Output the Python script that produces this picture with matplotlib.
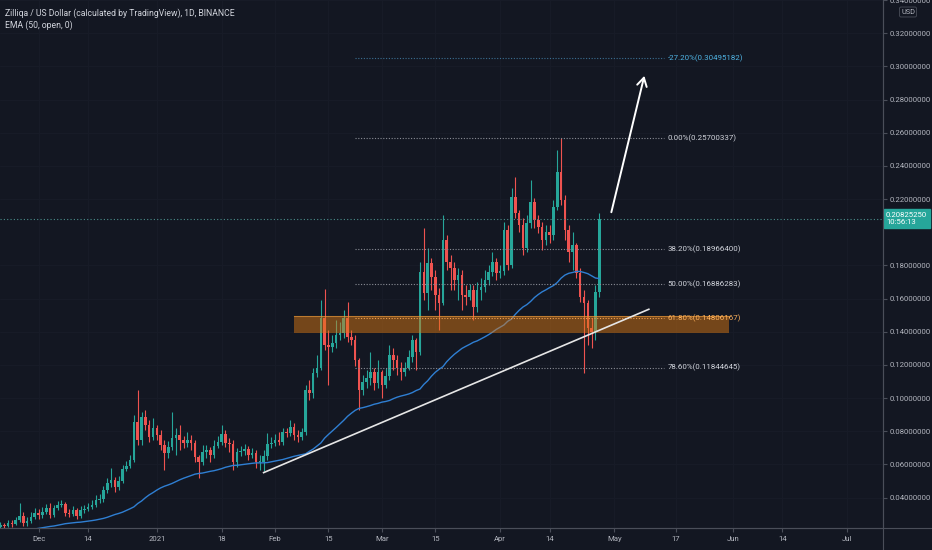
import numpy as np
import pandas as pd
import matplotlib
matplotlib.use('Agg')
import matplotlib.pyplot as plt
import matplotlib.dates as mdates
import matplotlib.transforms as mtransforms
from matplotlib import font_manager

#%% data (daily ZIL/USD candles)
start_day = '2020-11-21'
first_open = 0.0223
closes = [
    0.0235, 0.0229, 0.0247, 0.0241, 0.0265, 0.0290, 0.0247, 0.0259, 0.0283, 0.0308,
    0.0296, 0.0314, 0.0338, 0.0296, 0.0338, 0.0356, 0.0362, 0.0308, 0.0302, 0.0326,
    0.0290, 0.0326, 0.0332, 0.0344, 0.0356, 0.0386, 0.0392, 0.0446, 0.0489, 0.0507,
    0.0464, 0.0501, 0.0573, 0.0591, 0.0627, 0.0856, 0.0748, 0.0886, 0.0838, 0.0766,
    0.0820, 0.0778, 0.0718, 0.0669, 0.0706, 0.0760, 0.0778, 0.0748, 0.0730, 0.0748,
    0.0730, 0.0645, 0.0615, 0.0675, 0.0687, 0.0657, 0.0712, 0.0736, 0.0784, 0.0730,
    0.0724, 0.0615, 0.0675, 0.0681, 0.0694, 0.0657, 0.0669, 0.0615, 0.0615, 0.0651,
    0.0724, 0.0730, 0.0748, 0.0736, 0.0796, 0.0790, 0.0826, 0.0778, 0.0766, 0.0796,
    0.1049, 0.1031, 0.1152, 0.1182, 0.1483, 0.1321, 0.1309, 0.1333, 0.1380, 0.1393,
    0.1483, 0.1369, 0.1350, 0.1230, 0.1049, 0.1098, 0.1122, 0.1158, 0.1092, 0.1158,
    0.1079, 0.1134, 0.1260, 0.1230, 0.1182, 0.1158, 0.1182, 0.1248, 0.1350, 0.1278,
    0.1761, 0.1634, 0.1815, 0.1731, 0.1621, 0.1574, 0.1952, 0.1821, 0.1785, 0.1711,
    0.1741, 0.1621, 0.1610, 0.1651, 0.1550, 0.1651, 0.1670, 0.1711, 0.1761, 0.1821,
    0.1755, 0.1767, 0.2013, 0.1802, 0.2213, 0.2117, 0.2043, 0.1906, 0.2056, 0.2183,
    0.2073, 0.2032, 0.1952, 0.2002, 0.1983, 0.2153, 0.2364, 0.2193, 0.2013, 0.1881,
    0.1922, 0.1755, 0.1610, 0.1574, 0.1423, 0.1399, 0.1640, 0.2083]
highs = [
    0.0253, 0.0247, 0.0265, 0.0265, 0.0283, 0.0368, 0.0314, 0.0283, 0.0314, 0.0338,
    0.0332, 0.0344, 0.0362, 0.0368, 0.0356, 0.0380, 0.0386, 0.0374, 0.0332, 0.0350,
    0.0338, 0.0350, 0.0356, 0.0368, 0.0386, 0.0416, 0.0422, 0.0470, 0.0519, 0.0579,
    0.0525, 0.0531, 0.0597, 0.0621, 0.0657, 0.0899, 0.1049, 0.0917, 0.0929, 0.0868,
    0.0880, 0.0838, 0.0808, 0.0748, 0.0742, 0.0917, 0.0820, 0.0838, 0.0772, 0.0796,
    0.0778, 0.0748, 0.0657, 0.0718, 0.0718, 0.0706, 0.0748, 0.0772, 0.0838, 0.0808,
    0.0760, 0.0748, 0.0700, 0.0712, 0.0724, 0.0712, 0.0700, 0.0687, 0.0657, 0.0687,
    0.0790, 0.0766, 0.0784, 0.0796, 0.0820, 0.0820, 0.0868, 0.0850, 0.0808, 0.0820,
    0.1079, 0.1110, 0.1182, 0.1260, 0.1592, 0.1658, 0.1411, 0.1380, 0.1471, 0.1459,
    0.1532, 0.1580, 0.1411, 0.1380, 0.1242, 0.1140, 0.1170, 0.1278, 0.1182, 0.1230,
    0.1170, 0.1182, 0.1321, 0.1303, 0.1260, 0.1218, 0.1218, 0.1290, 0.1380, 0.1363,
    0.1821, 0.2026, 0.1906, 0.1845, 0.1772, 0.1664, 0.2103, 0.1983, 0.1862, 0.1821,
    0.1785, 0.1772, 0.1681, 0.1688, 0.1681, 0.1701, 0.1725, 0.1772, 0.1802, 0.1881,
    0.1845, 0.1802, 0.2062, 0.2043, 0.2267, 0.2334, 0.2133, 0.2086, 0.2103, 0.2314,
    0.2207, 0.2103, 0.2062, 0.2043, 0.2043, 0.2193, 0.2495, 0.2570, 0.2224, 0.2043,
    0.2002, 0.1936, 0.1785, 0.1651, 0.1591, 0.1483, 0.1681, 0.2117]
lows = [
    0.0217, 0.0217, 0.0223, 0.0223, 0.0235, 0.0253, 0.0229, 0.0229, 0.0247, 0.0271,
    0.0271, 0.0277, 0.0302, 0.0277, 0.0283, 0.0326, 0.0344, 0.0290, 0.0283, 0.0290,
    0.0271, 0.0277, 0.0308, 0.0320, 0.0332, 0.0344, 0.0368, 0.0374, 0.0428, 0.0464,
    0.0434, 0.0446, 0.0489, 0.0561, 0.0579, 0.0615, 0.0718, 0.0718, 0.0808, 0.0736,
    0.0748, 0.0748, 0.0687, 0.0567, 0.0639, 0.0687, 0.0657, 0.0687, 0.0700, 0.0706,
    0.0687, 0.0615, 0.0519, 0.0597, 0.0639, 0.0615, 0.0639, 0.0700, 0.0718, 0.0706,
    0.0675, 0.0567, 0.0585, 0.0651, 0.0657, 0.0627, 0.0639, 0.0579, 0.0567, 0.0561,
    0.0627, 0.0700, 0.0712, 0.0718, 0.0718, 0.0766, 0.0772, 0.0748, 0.0736, 0.0748,
    0.0778, 0.0989, 0.1001, 0.1128, 0.1170, 0.1290, 0.1079, 0.1278, 0.1303, 0.1350,
    0.1363, 0.1339, 0.1321, 0.1194, 0.0929, 0.1019, 0.1061, 0.1079, 0.1049, 0.1061,
    0.1001, 0.1061, 0.1110, 0.1170, 0.1140, 0.1110, 0.1134, 0.1170, 0.1218, 0.1170,
    0.1260, 0.1591, 0.1531, 0.1651, 0.1531, 0.1411, 0.1561, 0.1772, 0.1651, 0.1651,
    0.1591, 0.1531, 0.1561, 0.1591, 0.1470, 0.1520, 0.1591, 0.1640, 0.1681, 0.1737,
    0.1711, 0.1725, 0.1741, 0.1772, 0.1785, 0.2086, 0.2002, 0.1862, 0.1881, 0.2026,
    0.2026, 0.1996, 0.1892, 0.1922, 0.1936, 0.1952, 0.2133, 0.2163, 0.1952, 0.1821,
    0.1772, 0.1725, 0.1580, 0.1152, 0.1321, 0.1303, 0.1350, 0.1610]
ema_seed = 0.019   # EMA value just before the first visible candle

fib_pcts = ['-27.20%', '0.00%', '38.20%', '50.00%', '61.80%', '78.60%']
fib_prices = [0.30495182, 0.25700337, 0.18966400, 0.16886283, 0.14806167, 0.11844645]
fib_span = ['2021-02-22', '2021-05-14']
zone_span = ['2021-02-06', '2021-05-31']
zone_prices = [0.1393, 0.1495]
trend_dates = ['2021-01-29', '2021-05-10']
trend_prices = [0.0551, 0.1536]
arrow_dates = ['2021-04-30', '2021-05-09']
arrow_prices = [0.2105, 0.296]
last_price_text = '0.20825250'
countdown = '10:56:13'

tick_dates = ['2020-12-01', '2020-12-14', '2021-01-01', '2021-01-18', '2021-02-01',
              '2021-02-15', '2021-03-01', '2021-03-15', '2021-04-01', '2021-04-14',
              '2021-05-01', '2021-05-17', '2021-06-01', '2021-06-14', '2021-07-01']
tick_labels = ['Dec', '14', '2021', '18', 'Feb', '15', 'Mar', '15', 'Apr', '14',
               'May', '17', 'Jun', '14', 'Jul']
price_ticks = [0.04, 0.06, 0.08, 0.10, 0.12, 0.14, 0.16, 0.18, 0.22, 0.24, 0.26,
               0.28, 0.30, 0.32, 0.34]

#%% fonts
names = {f.name for f in font_manager.fontManager.ttflist}
if 'Liberation Sans Narrow' in names:
    FONT = ['Liberation Sans Narrow', 'DejaVu Sans']
else:
    FONT = ['Roboto', 'DejaVu Sans']
plt.rcParams['font.family'] = FONT

BG = '#131722'
TXT = '#b2b5be'
UP = '#26a69a'
DOWN = '#ef5350'

fig = plt.figure(figsize=(9.32, 5.5), dpi=100, facecolor=BG)
renderer = fig.canvas.get_renderer()


def fit_size(s, width_px, base=10.0):
    # font size that makes string s about width_px wide
    t = fig.text(0, 0, s, fontsize=base)
    w = t.get_window_extent(renderer).width
    t.remove()
    return base * width_px / w


FS_AX = fit_size('0.32000000', 41)
FS_FIB = fit_size('0.00%(0.25700337)', 68)
FS_LEG = fit_size('Zilliqa / US Dollar (calculated by TradingView), 1D, BINANCE', 228)

#%% candles
dates = pd.date_range(start_day, periods=len(closes), freq='D')
x = mdates.date2num(dates)
c = np.array(closes)
o = np.concatenate([[first_open], c[:-1]])
h = np.maximum(np.array(highs), np.maximum(o, c))
l = np.minimum(np.array(lows), np.minimum(o, c))
up = c >= o
col = np.where(up, UP, DOWN)

ema = []
prev = ema_seed
alpha = 2 / 51
for v in o:
    prev = prev + alpha * (v - prev)
    ema.append(prev)

ax = fig.add_axes([0, 22 / 550, 883 / 932, 528 / 550])
ax.set_facecolor(BG)

x0 = mdates.date2num(pd.Timestamp('2020-12-01'))
ax.set_xlim(x0 - 10.12, x0 + 221.4)
ax.set_ylim(0.0217, 0.3401)

ax.grid(True, color='#181c28', lw=0.6)
ax.set_axisbelow(True)

ax.vlines(x, l, h, colors=col, lw=0.8, zorder=3)
body = np.maximum(np.abs(c - o), 0.0004)
ax.bar(x, body, bottom=np.minimum(o, c), width=0.68, color=col, lw=0, zorder=4)

ax.plot(x, ema, color='#2f7fd3', lw=1.0, zorder=5)

# support zone
zx = mdates.date2num(pd.to_datetime(zone_span))
ax.fill_between(zx, zone_prices[0], zone_prices[1], color='#e07a12', alpha=0.48,
                lw=0, zorder=6)
ax.plot(zx, [zone_prices[1]] * 2, color='#f0a040', lw=0.8, alpha=0.6, zorder=6)

# fib levels
fx = mdates.date2num(pd.to_datetime(fib_span))
for pct, p in zip(fib_pcts, fib_prices):
    if pct.startswith('-'):
        lc, tc = '#3b6f92', '#4fb3e3'
    elif pct == '61.80%':
        lc, tc = '#f0a050', '#ffb25c'
    else:
        lc, tc = '#8a8d96', '#d1d4dc'
    ax.plot(fx, [p, p], color=lc, lw=0.8, ls=(0, (1, 1.5)), zorder=7)
    ax.text(fx[1] + 0.9, p, '%s(%.8f)' % (pct, p), color=tc, fontsize=FS_FIB,
            va='center', ha='left', zorder=8)

# trendline
tx = mdates.date2num(pd.to_datetime(trend_dates))
ax.plot(tx, trend_prices, color='#e6e6e6', lw=1.2, zorder=8)

# arrow
axx = mdates.date2num(pd.to_datetime(arrow_dates))
ax.annotate('', xy=(axx[1], arrow_prices[1]), xytext=(axx[0], arrow_prices[0]),
            arrowprops=dict(arrowstyle='->,head_length=0.6,head_width=0.35',
                            color='white', lw=1.4), zorder=9)

# last price line
ax.axhline(c[-1], color='#4b8f8c', lw=0.8, ls=(0, (1, 2)), zorder=7)

# axes styling
for s in ['top', 'left']:
    ax.spines[s].set_visible(False)
ax.spines['right'].set_color('#4a4e59')
ax.spines['bottom'].set_color('#4a4e59')
ax.yaxis.tick_right()
ax.set_yticks(price_ticks)
ax.set_yticklabels(['%.8f' % v for v in price_ticks])
ax.set_xticks(mdates.date2num(pd.to_datetime(tick_dates)))
ax.set_xticklabels(tick_labels)
ax.tick_params(axis='both', colors='#4a4e59', labelcolor=TXT, labelsize=FS_AX,
               length=3, width=0.8)
ax.tick_params(axis='y', pad=2)
ax.tick_params(axis='x', pad=3)

# right axis / bottom axis separators
fig.add_artist(plt.Line2D([883 / 932, 883 / 932], [0, 1], color='#4a4e59', lw=0.8))
fig.add_artist(plt.Line2D([0, 1], [22 / 550, 22 / 550], color='#4a4e59', lw=0.8))

# last price tag
trans = mtransforms.blended_transform_factory(ax.transAxes, ax.transData)
ax.text(1.0035, c[-1], last_price_text + '\n' + countdown, transform=trans,
        color='white', fontsize=FS_AX, va='center', ha='left', linespacing=1.3,
        bbox=dict(boxstyle='square,pad=0.3', fc=UP, ec=UP), clip_on=False, zorder=10)

fig.text(908 / 932, 1 - 12 / 550, 'USD', color=TXT, fontsize=FS_AX * 0.95,
         ha='center', va='center',
         bbox=dict(boxstyle='round,pad=0.2', fc=BG, ec='#4a4e59', lw=0.6))

# legend
fig.text(5 / 932, 1 - 13 / 550,
         'Zilliqa / US Dollar (calculated by TradingView), 1D, BINANCE',
         color='#d1d4dc', fontsize=FS_LEG, ha='left', va='center')
fig.text(5 / 932, 1 - 25 / 550, 'EMA (50, open, 0)', color='#d1d4dc',
         fontsize=FS_LEG, ha='left', va='center')

fig.savefig('out.png', dpi=100, facecolor=BG)
